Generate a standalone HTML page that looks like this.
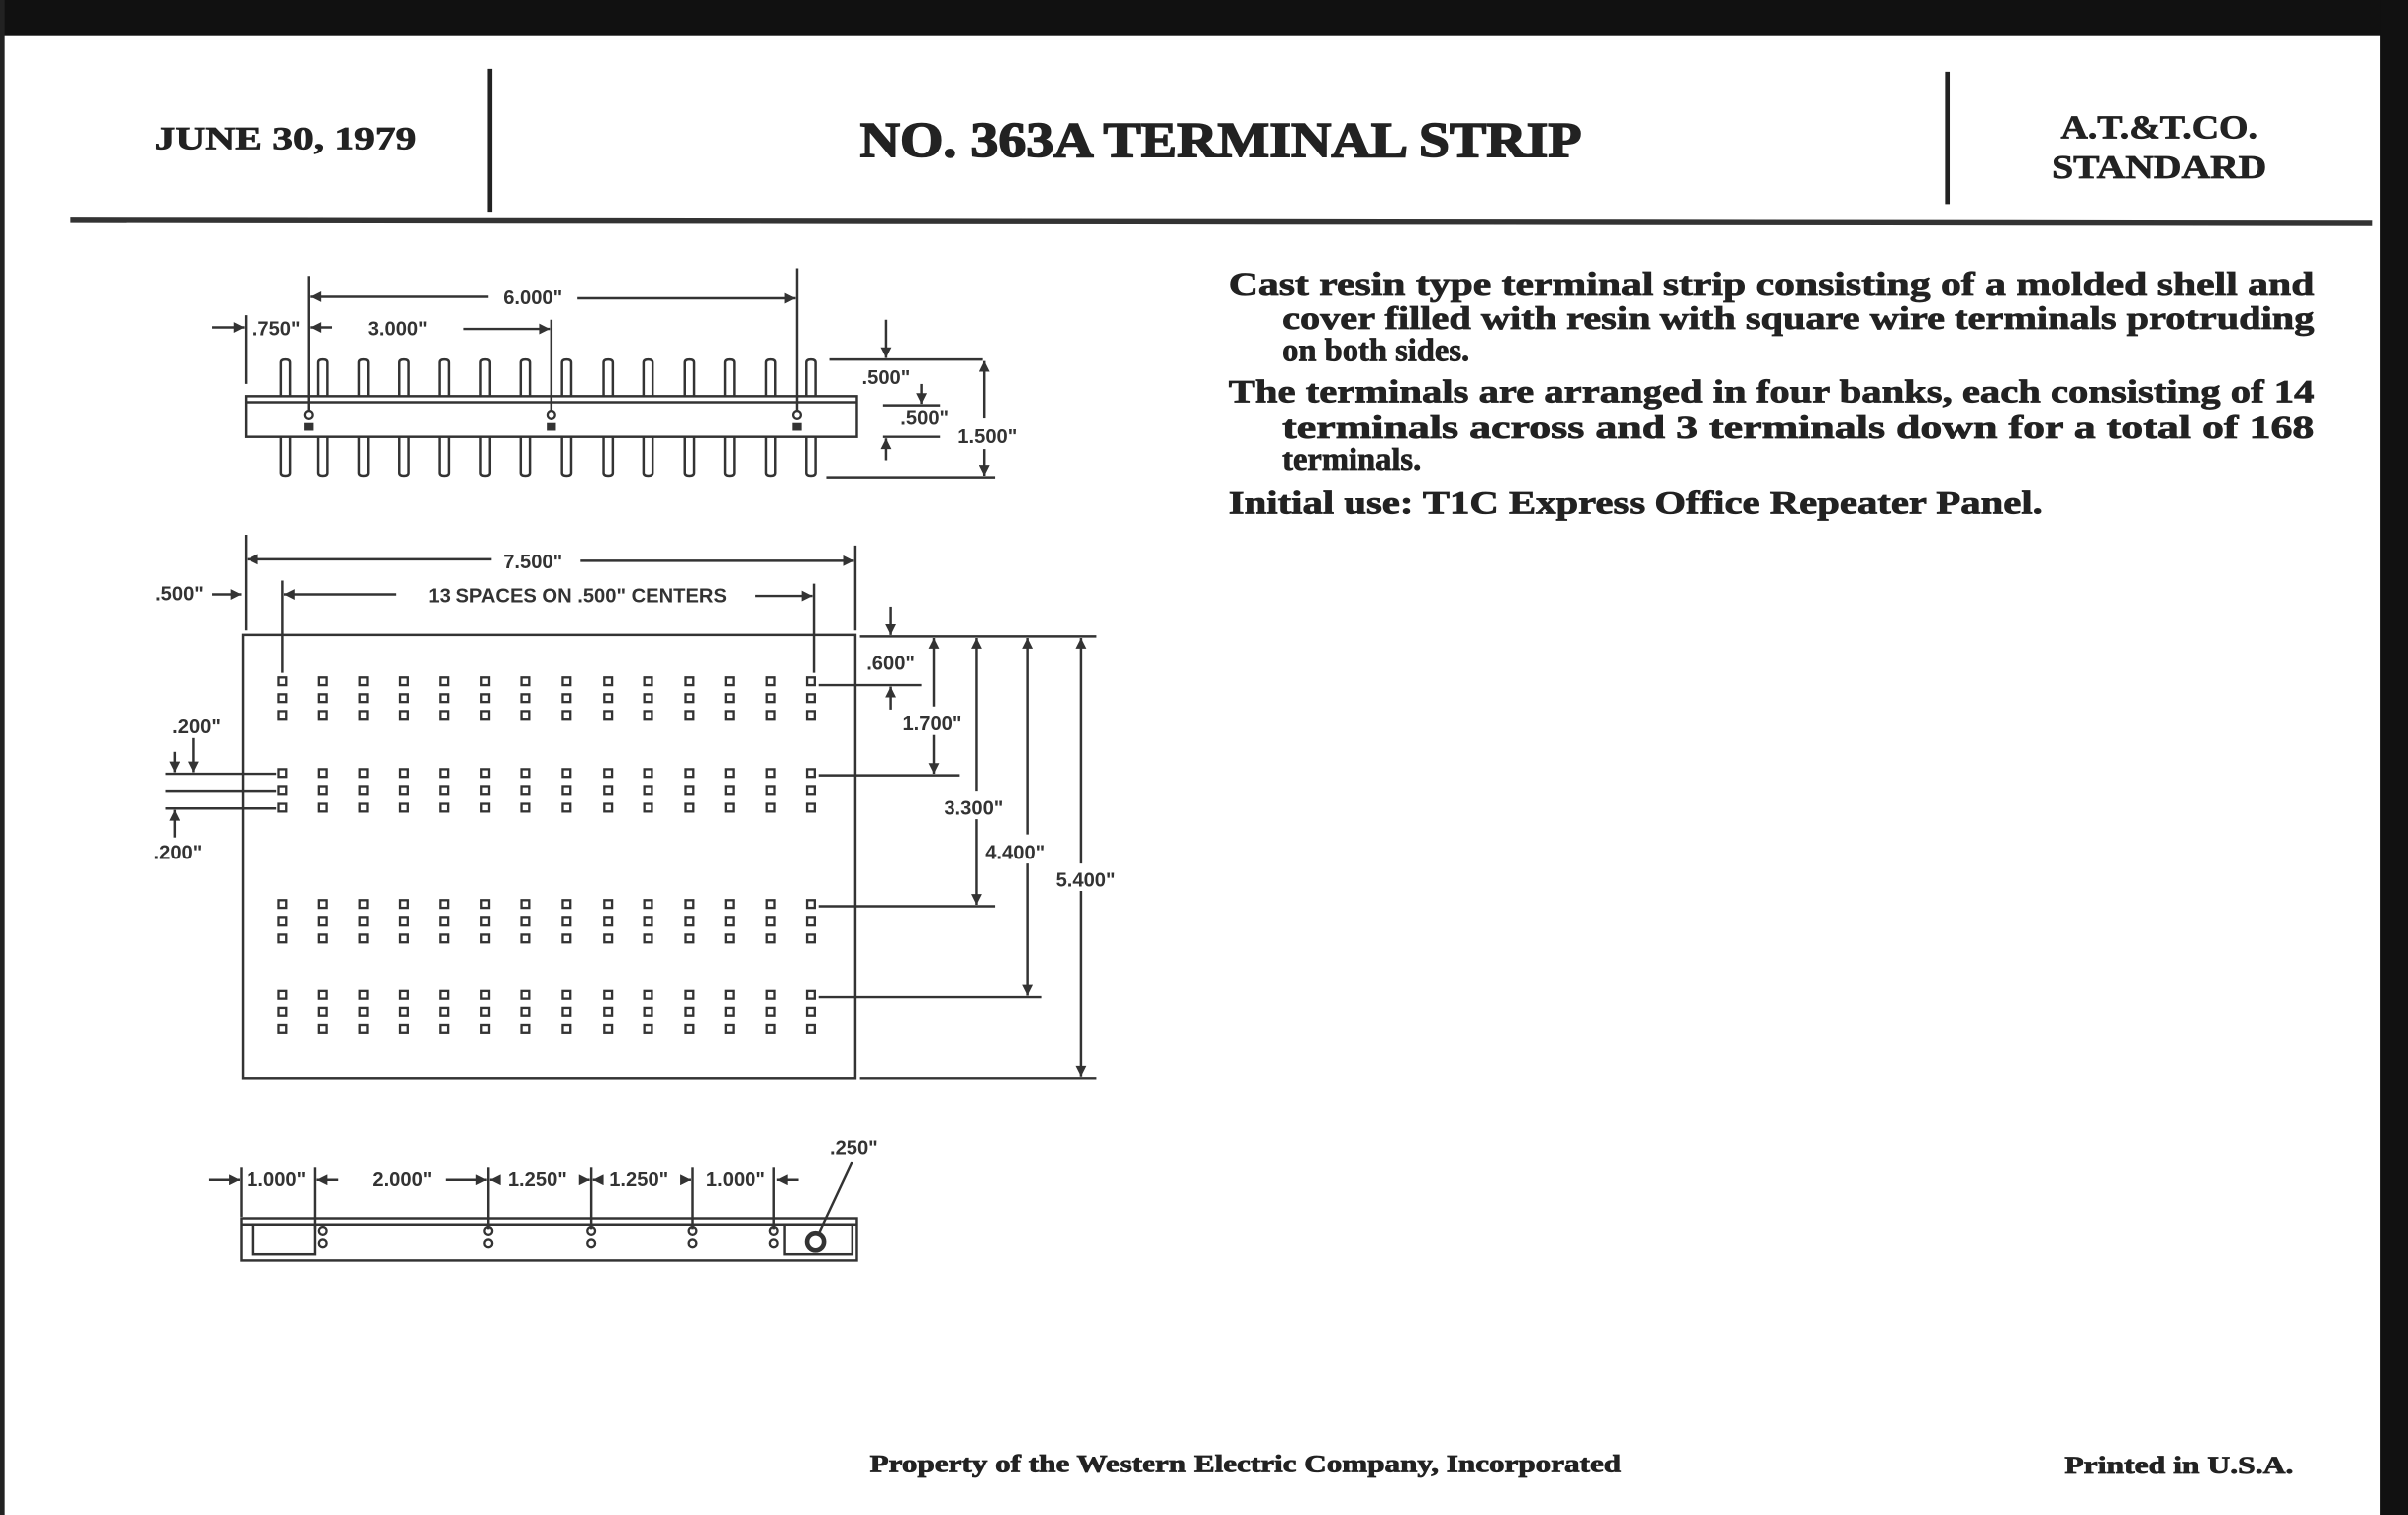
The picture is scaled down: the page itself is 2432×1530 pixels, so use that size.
<!DOCTYPE html>
<html><head><meta charset="utf-8"><style>
html,body{margin:0;padding:0;background:#fff;}
svg{display:block;}
text{font-family:"Liberation Serif",serif;font-weight:bold;fill:#222;stroke:#222;stroke-width:0.5;}
.s{font-family:"Liberation Sans",sans-serif;font-weight:bold;font-size:13px;fill:#333;stroke:none;}
.l{stroke:#333;stroke-width:1.6;fill:none;}
</style></head><body>
<svg width="2432" height="1530" viewBox="0 0 1568 986" preserveAspectRatio="none" xmlns="http://www.w3.org/2000/svg">
<defs>
<marker id="a" viewBox="0 0 10 10" refX="10" refY="5" markerWidth="9" markerHeight="7" orient="auto-start-reverse" markerUnits="userSpaceOnUse"><path d="M0,0 L10,5 L0,10 z" fill="#333"/></marker>
<g id="pt"><path d="M-3,258 V236 Q-3,234 0,234 Q3,234 3,236 V258" class="l"/></g>
<g id="pb"><path d="M-3,284 V308 Q-3,310 0,310 Q3,310 3,308 V284" class="l"/></g>
<g id="col" fill="none" stroke="#333" stroke-width="1.5">
<rect x="-2.5" y="441" width="5" height="5"/><rect x="-2.5" y="452" width="5" height="5"/><rect x="-2.5" y="463" width="5" height="5"/>
<rect x="-2.5" y="501" width="5" height="5"/><rect x="-2.5" y="512" width="5" height="5"/><rect x="-2.5" y="523" width="5" height="5"/>
<rect x="-2.5" y="586" width="5" height="5"/><rect x="-2.5" y="597" width="5" height="5"/><rect x="-2.5" y="608" width="5" height="5"/>
<rect x="-2.5" y="645" width="5" height="5"/><rect x="-2.5" y="656" width="5" height="5"/><rect x="-2.5" y="667" width="5" height="5"/>
</g>
</defs>
<rect x="0" y="0" width="1568" height="986" fill="#fff"/>
<rect x="0" y="0" width="1568" height="23" fill="#111"/>
<rect x="1550" y="0" width="18" height="986" fill="#111"/>
<rect x="0" y="0" width="3" height="986" fill="#222"/>

<text x="186" y="97" font-size="21" text-anchor="middle" textLength="170" lengthAdjust="spacingAndGlyphs">JUNE 30, 1979</text>
<line x1="319" y1="45" x2="319" y2="138" stroke="#222" stroke-width="3"/>
<text x="795" y="102" font-size="33" text-anchor="middle" textLength="470" lengthAdjust="spacingAndGlyphs" style="stroke-width:1">NO. 363A TERMINAL STRIP</text>
<line x1="1268" y1="47" x2="1268" y2="133" stroke="#222" stroke-width="3"/>
<text x="1406" y="90" font-size="22" text-anchor="middle" textLength="128" lengthAdjust="spacingAndGlyphs">A.T.&amp;T.CO.</text>
<text x="1406" y="116" font-size="22" text-anchor="middle" textLength="140" lengthAdjust="spacingAndGlyphs">STANDARD</text>
<line x1="46" y1="143" x2="1545" y2="145" stroke="#333" stroke-width="3.5"/>

<g font-size="21">
<text x="800" y="192" textLength="707" lengthAdjust="spacingAndGlyphs">Cast resin type terminal strip consisting of a molded shell and</text>
<text x="835" y="214" textLength="672" lengthAdjust="spacingAndGlyphs">cover filled with resin with square wire terminals protruding</text>
<text x="835" y="235">on both sides.</text>
<text x="800" y="262" textLength="707" lengthAdjust="spacingAndGlyphs">The terminals are arranged in four banks, each consisting of 14</text>
<text x="835" y="285" textLength="672" lengthAdjust="spacingAndGlyphs">terminals across and 3 terminals down for a total of 168</text>
<text x="835" y="306">terminals.</text>
<text x="800" y="334" textLength="530" lengthAdjust="spacingAndGlyphs">Initial use: T1C Express Office Repeater Panel.</text>
</g>

<rect x="160" y="258" width="398" height="26" class="l"/>
<line x1="160" y1="262" x2="558" y2="262" class="l"/>
<g>
<use href="#pt" x="186"/><use href="#pt" x="210"/><use href="#pt" x="237"/><use href="#pt" x="263"/><use href="#pt" x="289"/><use href="#pt" x="316"/><use href="#pt" x="342"/><use href="#pt" x="369"/><use href="#pt" x="396"/><use href="#pt" x="422"/><use href="#pt" x="449"/><use href="#pt" x="475"/><use href="#pt" x="502"/><use href="#pt" x="528"/>
<use href="#pb" x="186"/><use href="#pb" x="210"/><use href="#pb" x="237"/><use href="#pb" x="263"/><use href="#pb" x="289"/><use href="#pb" x="316"/><use href="#pb" x="342"/><use href="#pb" x="369"/><use href="#pb" x="396"/><use href="#pb" x="422"/><use href="#pb" x="449"/><use href="#pb" x="475"/><use href="#pb" x="502"/><use href="#pb" x="528"/>
</g>
<g fill="#333"><circle cx="201" cy="270" r="2.5" fill="none" stroke="#333" stroke-width="1.5"/><rect x="198" y="275" width="6" height="5"/>
<circle cx="359" cy="270" r="2.5" fill="none" stroke="#333" stroke-width="1.5"/><rect x="356" y="275" width="6" height="5"/>
<circle cx="519" cy="270" r="2.5" fill="none" stroke="#333" stroke-width="1.5"/><rect x="516" y="275" width="6" height="5"/></g>
<line x1="160" y1="205" x2="160" y2="250" class="l"/>
<line x1="201" y1="180" x2="201" y2="268" class="l"/>
<line x1="359" y1="208" x2="359" y2="268" class="l"/>
<line x1="519" y1="175" x2="519" y2="268" class="l"/>
<line x1="202" y1="193" x2="318" y2="193" class="l" marker-start="url(#a)"/>
<line x1="376" y1="194" x2="518" y2="194" class="l" marker-end="url(#a)"/>
<text class="s" x="347" y="198" text-anchor="middle">6.000"</text>
<line x1="202" y1="213" x2="216" y2="213" class="l" marker-start="url(#a)"/>
<line x1="302" y1="214" x2="358" y2="214" class="l" marker-end="url(#a)"/>
<text class="s" x="259" y="218" text-anchor="middle">3.000"</text>
<line x1="138" y1="213" x2="159" y2="213" class="l" marker-end="url(#a)"/>
<text class="s" x="180" y="218" text-anchor="middle">.750"</text>
<line x1="540" y1="234" x2="640" y2="234" class="l"/>
<line x1="575" y1="264" x2="612" y2="264" class="l"/>
<line x1="575" y1="284" x2="612" y2="284" class="l"/>
<line x1="538" y1="311" x2="648" y2="311" class="l"/>
<line x1="577" y1="208" x2="577" y2="233" class="l" marker-end="url(#a)"/>
<line x1="600" y1="250" x2="600" y2="263" class="l" marker-end="url(#a)"/>
<line x1="577" y1="300" x2="577" y2="285" class="l" marker-end="url(#a)"/>
<text class="s" x="577" y="250" text-anchor="middle">.500"</text>
<text class="s" x="602" y="276" text-anchor="middle">.500"</text>
<line x1="641" y1="235" x2="641" y2="272" class="l" marker-start="url(#a)"/>
<line x1="641" y1="292" x2="641" y2="310" class="l" marker-end="url(#a)"/>
<text class="s" x="643" y="288" text-anchor="middle">1.500"</text>

<rect x="158" y="413" width="399" height="289" class="l"/>
<line x1="160" y1="348" x2="160" y2="410" class="l"/>
<line x1="557" y1="355" x2="557" y2="410" class="l"/>
<line x1="161" y1="364" x2="320" y2="364" class="l" marker-start="url(#a)"/>
<line x1="378" y1="365" x2="556" y2="365" class="l" marker-end="url(#a)"/>
<text class="s" x="347" y="370" text-anchor="middle">7.500"</text>
<line x1="184" y1="378" x2="184" y2="438" class="l"/>
<line x1="530" y1="380" x2="530" y2="438" class="l"/>
<line x1="185" y1="387" x2="258" y2="387" class="l" marker-start="url(#a)"/>
<line x1="492" y1="388" x2="529" y2="388" class="l" marker-end="url(#a)"/>
<text class="s" x="376" y="392" text-anchor="middle">13 SPACES ON .500" CENTERS</text>
<text class="s" x="117" y="391" text-anchor="middle">.500"</text>
<line x1="138" y1="387" x2="157" y2="387" class="l" marker-end="url(#a)"/>
<g>
<use href="#col" x="184"/><use href="#col" x="210"/><use href="#col" x="237"/><use href="#col" x="263"/><use href="#col" x="289"/><use href="#col" x="316"/><use href="#col" x="342"/><use href="#col" x="369"/><use href="#col" x="396"/><use href="#col" x="422"/><use href="#col" x="449"/><use href="#col" x="475"/><use href="#col" x="502"/><use href="#col" x="528"/>
</g>
<line x1="560" y1="414" x2="714" y2="414" class="l"/>
<line x1="560" y1="702" x2="714" y2="702" class="l"/>
<line x1="533" y1="446" x2="600" y2="446" class="l"/>
<line x1="533" y1="505" x2="625" y2="505" class="l"/>
<line x1="533" y1="590" x2="648" y2="590" class="l"/>
<line x1="533" y1="649" x2="678" y2="649" class="l"/>
<line x1="580" y1="395" x2="580" y2="413" class="l" marker-end="url(#a)"/>
<line x1="580" y1="462" x2="580" y2="447" class="l" marker-end="url(#a)"/>
<text class="s" x="580" y="436" text-anchor="middle">.600"</text>
<line x1="608" y1="415" x2="608" y2="460" class="l" marker-start="url(#a)"/>
<line x1="608" y1="478" x2="608" y2="504" class="l" marker-end="url(#a)"/>
<text class="s" x="607" y="475" text-anchor="middle">1.700"</text>
<line x1="636" y1="415" x2="636" y2="515" class="l" marker-start="url(#a)"/>
<line x1="636" y1="533" x2="636" y2="589" class="l" marker-end="url(#a)"/>
<text class="s" x="634" y="530" text-anchor="middle">3.300"</text>
<line x1="669" y1="415" x2="669" y2="543" class="l" marker-start="url(#a)"/>
<line x1="669" y1="562" x2="669" y2="648" class="l" marker-end="url(#a)"/>
<text class="s" x="661" y="559" text-anchor="middle">4.400"</text>
<line x1="704" y1="415" x2="704" y2="562" class="l" marker-start="url(#a)"/>
<line x1="704" y1="580" x2="704" y2="701" class="l" marker-end="url(#a)"/>
<text class="s" x="707" y="577" text-anchor="middle">5.400"</text>
<line x1="108" y1="504" x2="180" y2="504" class="l"/>
<line x1="108" y1="515" x2="180" y2="515" class="l"/>
<line x1="108" y1="526" x2="180" y2="526" class="l"/>
<text class="s" x="128" y="477" text-anchor="middle">.200"</text>
<text class="s" x="116" y="559" text-anchor="middle">.200"</text>
<line x1="114" y1="489" x2="114" y2="503" class="l" marker-end="url(#a)"/>
<line x1="126" y1="480" x2="126" y2="503" class="l" marker-end="url(#a)"/>
<line x1="114" y1="545" x2="114" y2="527" class="l" marker-end="url(#a)"/>

<rect x="157" y="793" width="401" height="27" class="l"/>
<line x1="157" y1="797" x2="558" y2="797" class="l"/>
<rect x="165" y="797" width="40" height="19" class="l"/>
<rect x="511" y="797" width="44" height="19" class="l"/>
<g fill="none" stroke="#333" stroke-width="1.5">
<circle cx="210" cy="801" r="2.5"/><circle cx="210" cy="809" r="2.5"/>
<circle cx="318" cy="801" r="2.5"/><circle cx="318" cy="809" r="2.5"/>
<circle cx="385" cy="801" r="2.5"/><circle cx="385" cy="809" r="2.5"/>
<circle cx="451" cy="801" r="2.5"/><circle cx="451" cy="809" r="2.5"/>
<circle cx="504" cy="801" r="2.5"/><circle cx="504" cy="809" r="2.5"/>
<circle cx="531" cy="808" r="5.5" stroke-width="3"/>
</g>
<g class="l">
<line x1="157" y1="760" x2="157" y2="792"/><line x1="205" y1="760" x2="205" y2="800"/>
<line x1="318" y1="760" x2="318" y2="800"/><line x1="385" y1="760" x2="385" y2="800"/>
<line x1="451" y1="760" x2="451" y2="800"/><line x1="504" y1="760" x2="504" y2="800"/>
</g>
<line x1="136" y1="768" x2="156" y2="768" class="l" marker-end="url(#a)"/>
<line x1="206" y1="768" x2="220" y2="768" class="l" marker-start="url(#a)"/>
<line x1="290" y1="768" x2="317" y2="768" class="l" marker-end="url(#a)"/>
<line x1="319" y1="768" x2="323" y2="768" class="l" marker-start="url(#a)"/>
<line x1="378" y1="768" x2="384" y2="768" class="l" marker-end="url(#a)"/>
<line x1="386" y1="768" x2="390" y2="768" class="l" marker-start="url(#a)"/>
<line x1="444" y1="768" x2="450" y2="768" class="l" marker-end="url(#a)"/>
<line x1="506" y1="768" x2="520" y2="768" class="l" marker-start="url(#a)"/>
<text class="s" x="180" y="772" text-anchor="middle">1.000"</text>
<text class="s" x="262" y="772" text-anchor="middle">2.000"</text>
<text class="s" x="350" y="772" text-anchor="middle">1.250"</text>
<text class="s" x="416" y="772" text-anchor="middle">1.250"</text>
<text class="s" x="479" y="772" text-anchor="middle">1.000"</text>
<text class="s" x="556" y="751" text-anchor="middle">.250"</text>
<line x1="555" y1="756" x2="533" y2="803" class="l"/>

<text x="811" y="958" font-size="16" text-anchor="middle" textLength="489" lengthAdjust="spacingAndGlyphs">Property of the Western Electric Company, Incorporated</text>
<text x="1419" y="959" font-size="16" text-anchor="middle" textLength="149" lengthAdjust="spacingAndGlyphs">Printed in U.S.A.</text>
</svg>
</body></html>
